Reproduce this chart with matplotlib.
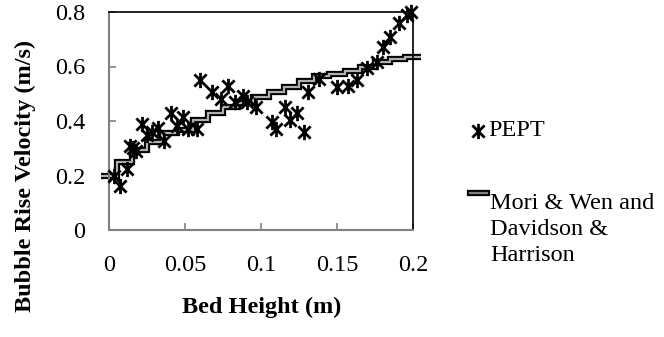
import numpy as np
import matplotlib.pyplot as plt
import matplotlib.patheffects as pe
from matplotlib.path import Path
from matplotlib.lines import Line2D

plt.rcParams['font.family'] = ['Liberation Serif', 'DejaVu Serif']

# PEPT measurements
pept_x = [0.003, 0.007, 0.012, 0.014, 0.016, 0.018, 0.022, 0.025, 0.028, 0.032,
          0.036, 0.041, 0.045, 0.049, 0.052, 0.058, 0.060, 0.068, 0.074, 0.078,
          0.083, 0.088, 0.091, 0.097, 0.107, 0.110, 0.116, 0.119, 0.124, 0.128,
          0.131, 0.138, 0.150, 0.157, 0.163, 0.170, 0.176, 0.180, 0.185, 0.191,
          0.196, 0.199]
pept_y = [0.20, 0.16, 0.225, 0.31, 0.30, 0.29, 0.39, 0.35, 0.36, 0.375,
          0.325, 0.43, 0.38, 0.415, 0.37, 0.37, 0.55, 0.505, 0.48, 0.53,
          0.47, 0.49, 0.47, 0.45, 0.395, 0.37, 0.45, 0.405, 0.43, 0.36,
          0.505, 0.555, 0.525, 0.53, 0.55, 0.595, 0.617, 0.67, 0.71, 0.76,
          0.79, 0.80]

# Mori & Wen and Davidson & Harrison model
model_x = [0.00, 0.01, 0.02, 0.03, 0.04, 0.05, 0.06, 0.07, 0.08, 0.09, 0.10,
           0.11, 0.12, 0.13, 0.14, 0.15, 0.16, 0.17, 0.18, 0.19, 0.20]
model_y = [0.20, 0.25, 0.294, 0.323, 0.356, 0.367, 0.405, 0.43, 0.45, 0.466, 0.488,
           0.506, 0.525, 0.545, 0.565, 0.572, 0.584, 0.60, 0.617, 0.627, 0.635]

x_ticks = [0, 0.05, 0.1, 0.15, 0.2]
x_labels = ['0', '0.05', '0.1', '0.15', '0.2']
y_ticks = [0, 0.2, 0.4, 0.6, 0.8]
y_labels = ['0', '0.2', '0.4', '0.6', '0.8']

# asterisk marker: X plus a vertical bar
star = Path([(-1, -1), (1, 1), (-1, 1), (1, -1), (0, -1.25), (0, 1.25)],
            [Path.MOVETO, Path.LINETO, Path.MOVETO, Path.LINETO, Path.MOVETO, Path.LINETO])

fs = 17.5
fig = plt.figure(figsize=(6.64, 3.37), dpi=100)
ax = fig.add_axes([109 / 664, 1 - 230 / 337, 304 / 664, 218 / 337])

mx = np.array(model_x)
dx = mx[1] - mx[0]
edges = np.concatenate(([mx[0] - dx / 2], (mx[:-1] + mx[1:]) / 2, [mx[-1] + dx / 2]))
outline = [pe.Stroke(linewidth=4.5, foreground='black'), pe.Normal()]
ax.stairs(model_y, edges, baseline=None, color='#b0b0b0', linewidth=1.6,
          path_effects=outline, clip_on=False, zorder=2)

ax.plot(pept_x, pept_y, linestyle='none', marker=star, markersize=11,
        markeredgewidth=2, color='black', clip_on=False, zorder=3)

ax.set_xlim(0, 0.2)
ax.set_ylim(0, 0.8)
ax.set_xticks(x_ticks)
ax.set_xticklabels(x_labels)
ax.set_yticks(y_ticks)
ax.set_yticklabels(y_labels)
ax.tick_params(direction='in', length=5, width=1.2, color='#808080',
               labelsize=fs, pad=17)
ax.tick_params(axis='x', pad=18)
for s in ['left', 'bottom']:
    ax.spines[s].set_color('#808080')
    ax.spines[s].set_linewidth(1.5)
for s in ['top', 'right']:
    ax.spines[s].set_color('black')
    ax.spines[s].set_linewidth(1.2)

fig.text(25 / 664, 1 - 176 / 337, 'Bubble Rise Velocity (m/s)', rotation=90,
         ha='center', va='center', fontsize=fs, fontweight='bold')
fig.text(262 / 664, 1 - 307 / 337, 'Bed Height (m)', ha='center', va='center',
         fontsize=fs, fontweight='bold')

# legend
fig.add_artist(Line2D([478 / 664], [1 - 131 / 337], marker=star, markersize=11,
                      markeredgewidth=2, color='black', linestyle='none'))
fig.text(488 / 664, 1 - 131 / 337, 'PEPT', ha='left', va='center', fontsize=fs)
fig.add_artist(Line2D([470 / 664, 487 / 664], [1 - 193 / 337, 1 - 193 / 337],
                      color='#808080', linewidth=1.6, path_effects=outline))
fig.text(490 / 664, 1 - 193 / 337, 'Mori & Wen and\nDavidson &\nHarrison',
         ha='left', va='top', fontsize=fs, linespacing=1.3,
         transform=fig.transFigure)

fig.savefig('out.png', dpi=100)
